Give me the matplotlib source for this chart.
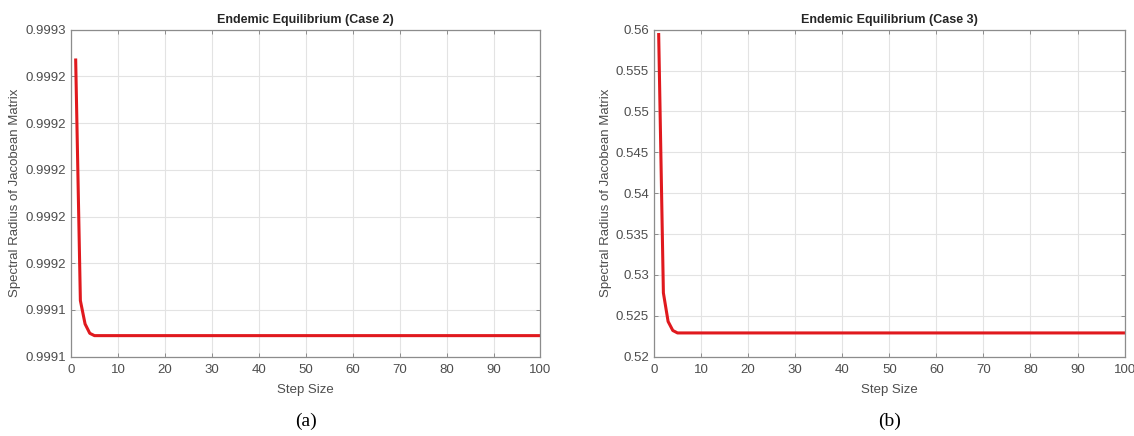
import matplotlib
matplotlib.use("Agg")
import matplotlib.pyplot as plt
from matplotlib.ticker import FormatStrFormatter, MultipleLocator

# Case 2 (a): spectral radius vs step size
steps_a = [1, 2, 3, 4, 5, 100]
radius_a = [0.999247, 0.999144, 0.999134, 0.999130, 0.999129, 0.999129]

# Case 3 (b)
steps_b = [1, 2, 3, 4, 5, 100]
radius_b = [0.5594, 0.5278, 0.5243, 0.5232, 0.5229, 0.5229]

titles = ["Endemic Equilibrium (Case 2)", "Endemic Equilibrium (Case 3)"]
captions = ["(a)", "(b)"]

plt.rcParams['font.family'] = ['Liberation Sans', 'DejaVu Sans']

fig = plt.figure(figsize=(11.34, 4.36), dpi=100)
ax_a = fig.add_axes([0.0626, 0.182, 0.414, 0.750])
ax_b = fig.add_axes([0.5767, 0.182, 0.415, 0.750])

text_col = '#4d4d4d'
spine_col = '#8c8c8c'

for ax, x, y, title, cap in [(ax_a, steps_a, radius_a, titles[0], captions[0]),
                             (ax_b, steps_b, radius_b, titles[1], captions[1])]:
    ax.plot(x, y, color='#e0191e', linewidth=2.2)
    ax.set_xlim(0, 100)
    ax.xaxis.set_major_locator(MultipleLocator(10))
    ax.grid(True, color='#e3e3e3', linewidth=0.8)
    ax.set_title(title, fontsize=9, fontweight='bold', color='#262626', pad=5)
    ax.set_xlabel('Step Size', fontsize=9.5, color=text_col, labelpad=6)
    ax.set_ylabel('Spectral Radius of Jacobean Matrix', fontsize=9.5, color=text_col, labelpad=3)
    ax.tick_params(direction='in', top=True, right=True, length=3, width=0.7,
                   colors=spine_col, labelcolor=text_col, labelsize=9.5)
    ax.tick_params(axis='x', pad=5)
    for s in ax.spines.values():
        s.set_color(spine_col)
        s.set_linewidth(0.9)
    ax.text(0.5, -0.17, cap, transform=ax.transAxes, ha='center', va='top',
            fontsize=14, family='Liberation Serif', color='black')

ax_a.set_ylim(0.99912, 0.99926)
ax_a.yaxis.set_major_locator(MultipleLocator(0.00002))
ax_a.yaxis.set_major_formatter(FormatStrFormatter('%.4f'))

ax_b.set_ylim(0.52, 0.56)
ax_b.yaxis.set_major_locator(MultipleLocator(0.005))
ax_b.yaxis.set_major_formatter(FormatStrFormatter('%g'))

fig.savefig('out.png', dpi=100)
plt.close(fig)
